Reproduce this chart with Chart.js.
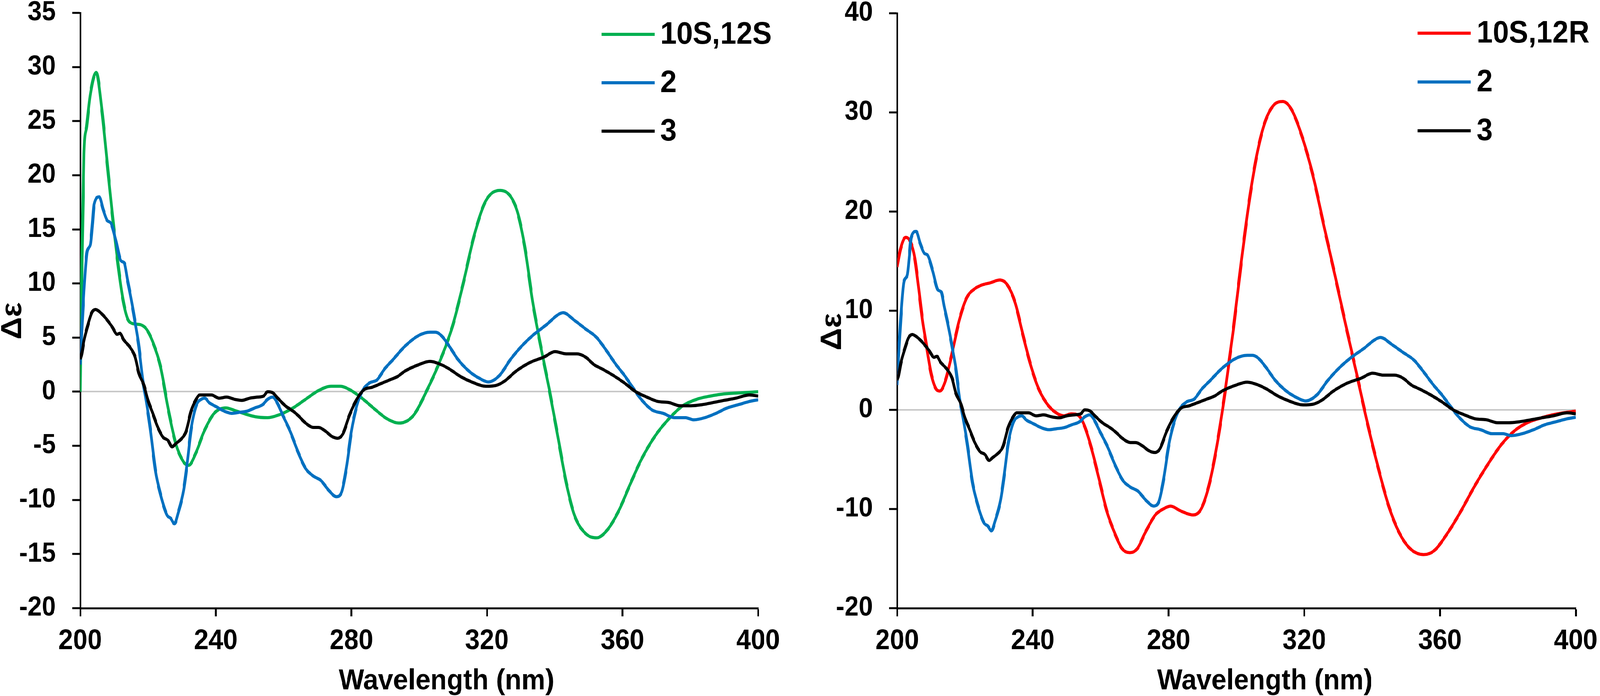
<!DOCTYPE html>
<html lang="en">
<head>
    <meta charset="UTF-8">
    <title>CD spectra</title>
    <script src="https://cdn.jsdelivr.net/npm/chart.js@4.4.1/dist/chart.umd.min.js"></script>
    <style type="text/css">
        html, body { margin: 0; padding: 0; background: #fff; overflow: hidden; }
        #stage { width: 4407px; height: 1783px; position: relative; transform-origin: 0 0; }
        #stage canvas { position: absolute; top: 0; }
    </style>
</head>
<body>
    <div id="stage">
        <canvas id="cdLeft" width="2203" height="1783" style="left:0px;"></canvas>
        <canvas id="cdRight" width="2204" height="1783" style="left:2203px;"></canvas>
    </div>
<script>

// calculated 10S,12S (left panel)
const wl10S12S = [200, 200.5, 201.1, 201.9, 203, 204.7, 206.4, 207.9, 209.4, 210.9, 212.4, 213.9, 215.4, 217.7, 219.5,
    221.4, 223.7, 225.9, 228.2, 230.5, 232, 234.2, 236.5, 239.5, 242.9, 246.2, 251.5, 255.3, 259, 262.8, 266.5, 270.3,
    274, 276.7, 280, 283.1, 287.6, 290.5, 294, 298.3, 302.4, 305.7, 309.8, 313, 316.3, 319.6, 323.9, 328.6, 331.1,
    333.5, 336, 338.4, 340.9, 343.4, 345.8, 349.1, 352.4, 355.7, 358.9, 362.2, 365.5, 369.6, 373.7, 377.8, 381.9,
    386, 390.1, 395, 400];
const de10S12S = [0, 12, 22, 24.5, 27.5, 29.5, 26, 21.3, 16.6, 12.4, 8.9, 6.8, 6.3, 6.2, 5.8,
    4.6, 2.3, -1.5, -4.8, -6.5, -6.8, -5.6, -3.7, -2.0, -1.5, -1.8, -2.3, -2.4, -2.1, -1.5, -0.7, 0.1,
    0.5, 0.5, 0.1, -0.6, -1.8, -2.5, -2.9, -2.2, 0.2, 2.5, 6.0, 10, 14.5, 17.6, 18.6, 17, 13.5,
    8.3, 4, 0.2, -4.1, -8.4, -11.4, -13.1, -13.5, -12.7, -11, -8.6, -6.3, -4.1, -2.5, -1.3, -0.7,
    -0.4, -0.2, -0.1, 0];

// calculated 10S,12R (right panel)
const wl10S12R = [200, 201, 202.5, 204, 205.2, 206.3, 207.5, 208.5, 210, 211.5, 212.6, 214.1, 216, 218.3, 220.5, 222.8,
    225, 227.3, 230.3, 232.5, 234.8, 237, 239.3, 241.5, 243.8, 246.1, 249.1, 251.3, 253.6, 255.1, 257.3, 259.6,
    261.8, 264.1, 266.3, 268.6, 270.8, 273.1, 276.1, 278.4, 280.6, 283.6, 287.2, 289.6, 292, 294.3, 296.7, 299.1,
    301.4, 303.8, 306.2, 308.5, 310.9, 313.7, 316.4, 319.6, 322.8, 325.9, 329.1, 332.2, 335.4, 338.6, 341.7,
    344.9, 348, 351.2, 355.2, 358.3, 362.3, 366.2, 370.2, 374.1, 378.1, 382, 386, 389.9, 393.9, 400];
const de10S12R = [14.4, 16.2, 17.4, 16.9, 15.3, 12.4, 9.0, 6.8, 3.7, 2.1, 1.9, 2.8, 5.4, 9.0, 11.3, 12.2,
    12.6, 12.8, 13.1, 12.6, 10.8, 7.7, 4.6, 2.3, 0.8, -0.1, -0.6, -0.4, -0.6, -1.5, -3.9, -7.1,
    -10.2, -12.4, -14.0, -14.4, -14.0, -12.4, -10.6, -10.0, -9.7, -10.2, -10.6, -10.0, -7.5, -3.5, 1.9, 8.1,
    14.8, 21.1, 26, 29.1, 30.7, 31.1, 30.2, 27.3, 23.3, 18.4, 13.5, 8.6, 3.7, -1.3, -5.7,
    -9.7, -12.4, -14.0, -14.6, -14.2, -12.4, -10.2, -7.7, -5.5, -3.5, -2.1, -1.25, -0.8, -0.45, -0.13];

// measured compound 2
const wl2 = [200, 200.5, 201.1, 202, 203, 203.6, 204.1, 205.6, 206.8, 208, 209, 210.5, 212, 213, 213.9,
    215, 216.2, 217.3, 218.4, 219.5, 220.7, 222.2, 223.7, 225.6, 226.7, 227.8, 228.9, 230.5, 231.6, 232.7, 234.2,
    235.7, 236.8, 238, 240.2, 242.5, 244.7, 247, 249.2, 251.5, 253.8, 255.3, 256.8, 257.9, 259.8, 262, 264.3,
    266.5, 268.8, 271, 273.3, 275.6, 277.1, 278.6, 280, 281.6, 283.1, 285.3, 287.6, 289.8, 292.1, 295.8, 299.9,
    303.2, 304.8, 306.5, 308.9, 311.4, 314.7, 318, 320.4, 323.7, 327, 330.2, 333.5, 337.6, 340.9, 342.5, 345.8,
    349.1, 352.4, 354.8, 358.1, 360.6, 363, 365.5, 368.8, 372, 375.3, 378.6, 381, 384.3, 387.6, 390.9, 394.2,
    397.5, 400];
const de2 = [2.5, 6, 9.3, 12.9, 13.6, 15.5, 17.3, 18, 16.8, 15.8, 15.6, 14.0, 12.1, 11.9, 10.4,
    8.6, 6.4, 4.2, 1.2, -0.9, -3.5, -7.3, -9.5, -11.4, -11.7, -12.2, -11.2, -9.1, -6.5, -3.5, -1.3,
    -0.7, -0.6, -1.0, -1.4, -1.8, -2.0, -1.9, -1.8, -1.5, -1.2, -0.7, -0.5, -0.9, -2.2, -3.7, -5.6,
    -7.1, -7.8, -8.2, -9.1, -9.7, -9.3, -6.9, -3.7, -1.3, 0, 0.8, 1.1, 2.1, 2.9, 4.2, 5.2,
    5.5, 5.5, 5.2, 4.2, 3.0, 1.9, 1.2, 0.9, 1.5, 3.0, 4.2, 5.2, 6.2, 7.1, 7.3, 6.6,
    5.8, 5.0, 4.0, 2.5, 1.5, 0.4, -0.7, -1.7, -2.0, -2.4, -2.4, -2.6, -2.4, -2.0, -1.5, -1.2,
    -0.9, -0.75];

// measured compound 3
const wl3 = [200, 200.4, 201.1, 202.3, 203.4, 204.5, 206, 207.5, 209.4, 210.9, 211.7, 212.8, 214.7, 216.2, 217.3,
    218.8, 219.9, 221.4, 222.9, 224.4, 225.9, 227.1, 228.2, 229.7, 231.2, 232.7, 234.2, 235.3, 237.2, 238.7, 241,
    243.2, 245.5, 247.7, 250, 252.3, 254.1, 255.3, 256.8, 258.3, 260.5, 262.8, 264.3, 266.5, 268.8, 270.3, 272.6,
    274.1, 276, 277.5, 279.4, 281.6, 283.8, 286, 289.1, 291.4, 293.6, 295.8, 299.9, 303.2, 306.5, 308.9, 312.2,
    315.5, 319.6, 322.9, 325.3, 328.6, 332.7, 336.8, 340.1, 343.4, 346.6, 349.1, 351.6, 354, 357.3, 360.6, 363.9,
    367.2, 370.4, 373.7, 377, 380.2, 383.4, 386.8, 390, 393.4, 397.5, 400];
const de3 = [3.0, 3.4, 4.7, 6.2, 7.3, 7.6, 7.3, 6.8, 6.0, 5.3, 5.4, 4.8, 4.1, 3.2, 1.7,
    0.6, -0.7, -2.0, -3.3, -4.2, -4.5, -5.1, -4.8, -4.4, -3.7, -1.8, -0.7, -0.3, -0.3, -0.3, -0.6,
    -0.5, -0.7, -0.8, -0.6, -0.5, -0.4, 0, -0.1, -0.6, -1.3, -1.8, -2.2, -2.9, -3.3, -3.3, -3.7,
    -4.1, -4.3, -3.9, -2.2, -0.7, 0.2, 0.4, 0.8, 1.1, 1.4, 1.9, 2.5, 2.8, 2.5, 2.1, 1.4,
    0.9, 0.5, 0.6, 1.0, 1.9, 2.7, 3.2, 3.7, 3.5, 3.5, 3.2, 2.5, 2.1, 1.5, 0.8, 0,
    -0.5, -0.9, -1.0, -1.3, -1.3, -1.2, -1.0, -0.8, -0.6, -0.3, -0.4];

// axis ticks
const xTickValues = [200, 240, 280, 320, 360, 400];
const leftYTicks = [-20, -15, -10, -5, 0, 5, 10, 15, 20, 25, 30, 35];
const rightYTicks = [-20, -10, 0, 10, 20, 30, 40];

const FONT = "'Liberation Sans', Arial, sans-serif";

// the window may be narrower than 4407, stretch the drawing onto it
const stage = document.getElementById('stage');
const sx = window.innerWidth / 4407;
const sy = window.innerHeight / 1783;
stage.style.transform = 'scale(' + sx + ',' + sy + ')';

function pairs(xs, ys) {
    return xs.map((x, i) => ({x: x, y: ys[i]}));
}

function series(label, xs, ys, color, order) {
    return {
        label: label,
        data: pairs(xs, ys),
        borderColor: color,
        backgroundColor: color,
        borderWidth: 8,
        pointRadius: 0,
        cubicInterpolationMode: 'monotone',
        fill: false,
        order: order
    };
}

// legend + axis titles, placed like the excel original
const decorations = {
    id: 'decorations',
    afterDraw(chart, args, opts) {
        const ctx = chart.ctx;
        ctx.save();
        ctx.fillStyle = '#000';

        ctx.font = 'bold 74px ' + FONT;
        ctx.textAlign = 'center';
        ctx.textBaseline = 'alphabetic';
        ctx.fillText(opts.xTitle, opts.xTitleX, opts.xTitleY);

        ctx.save();
        ctx.translate(opts.yTitleX, opts.yTitleY);
        ctx.rotate(-Math.PI / 2);
        ctx.font = 'bold 80px ' + FONT;
        ctx.textBaseline = 'middle';
        ctx.fillText(opts.yTitle, 0, 0);
        ctx.restore();

        ctx.font = 'bold 80px ' + FONT;
        ctx.textAlign = 'left';
        ctx.textBaseline = 'middle';
        chart.data.datasets.forEach((ds, i) => {
            const y = opts.legendY + i * opts.legendStep;
            ctx.strokeStyle = ds.borderColor;
            ctx.lineWidth = 8;
            ctx.beginPath();
            ctx.moveTo(opts.legendX, y);
            ctx.lineTo(opts.legendX + 146, y);
            ctx.stroke();
            ctx.fillText(ds.label, opts.legendX + 162, y + 2);
        });
        ctx.restore();
    }
};

function makeChart(canvasId, datasets, yTicks, yMin, yMax, axisWidth, padding, deco) {
    const canvas = document.getElementById(canvasId);
    return new Chart(canvas, {
        type: 'line',
        data: { datasets: datasets },
        options: {
            responsive: false,
            animation: false,
            devicePixelRatio: 1,
            layout: { padding: padding },
            plugins: {
                legend: { display: false },
                tooltip: { enabled: false },
                decorations: deco
            },
            scales: {
                x: {
                    type: 'linear',
                    min: 200,
                    max: 400,
                    afterBuildTicks: (scale) => { scale.ticks = xTickValues.map(v => ({value: v})); },
                    afterFit: (scale) => {
                        scale.height = 225;
                        // keep the plot box where it is, end labels may hang over
                        scale.paddingLeft = 0;
                        scale.paddingRight = 0;
                    },
                    border: { display: true, color: '#000', width: 5 },
                    grid: {
                        color: 'rgba(0,0,0,0)',
                        tickColor: '#000',
                        tickLength: 21,
                        tickWidth: 5
                    },
                    ticks: {
                        color: '#000',
                        padding: 21,
                        maxRotation: 0,
                        font: { family: FONT, size: 72, weight: 'bold', lineHeight: 1.2 }
                    }
                },
                y: {
                    type: 'linear',
                    min: yMin,
                    max: yMax,
                    afterBuildTicks: (scale) => { scale.ticks = yTicks.map(v => ({value: v})); },
                    afterFit: (scale) => {
                        scale.width = axisWidth;
                        scale.paddingTop = 0;
                        scale.paddingBottom = 0;
                    },
                    border: { display: true, color: '#000', width: 5 },
                    grid: {
                        color: (c) => (c.tick && c.tick.value === 0) ? '#c8c8c8' : 'rgba(0,0,0,0)',
                        lineWidth: 4,
                        tickColor: '#000',
                        tickLength: 22,
                        tickWidth: 5
                    },
                    ticks: {
                        color: '#000',
                        padding: 45,
                        font: { family: FONT, size: 70, weight: 'bold', lineHeight: 1.2 }
                    }
                }
            }
        },
        plugins: [decorations]
    });
}

var leftChart = makeChart('cdLeft', [
        series('10S,12S', wl10S12S, de10S12S, '#00b050', 3),
        series('2', wl2, de2, '#0070c0', 2),
        series('3', wl3, de3, '#000000', 1)
    ], leftYTicks, -20, 35, 221,
    { top: 33, right: 115, bottom: 0, left: 0 },
    { xTitle: 'Wavelength (nm)', xTitleX: 1230, xTitleY: 1766,
      yTitle: 'Δε', yTitleX: 36, yTitleY: 822,
      legendX: 1657, legendY: 88, legendStep: 124 });

var rightChart = makeChart('cdRight', [
        series('10S,12R', wl10S12R, de10S12R, '#ff0000', 3),
        series('2', wl2, de2, '#0070c0', 2),
        series('3', wl3, de3, '#000000', 1)
    ], rightYTicks, -20, 40, 268,
    { top: 34, right: 67, bottom: 0, left: 0 },
    { xTitle: 'Wavelength (nm)', xTitleX: 1281, xTitleY: 1766,
      yTitle: 'Δε', yTitleX: 91, yTitleY: 850,
      legendX: 1702, legendY: 85, legendStep: 125 });

</script>
</body>
</html>
